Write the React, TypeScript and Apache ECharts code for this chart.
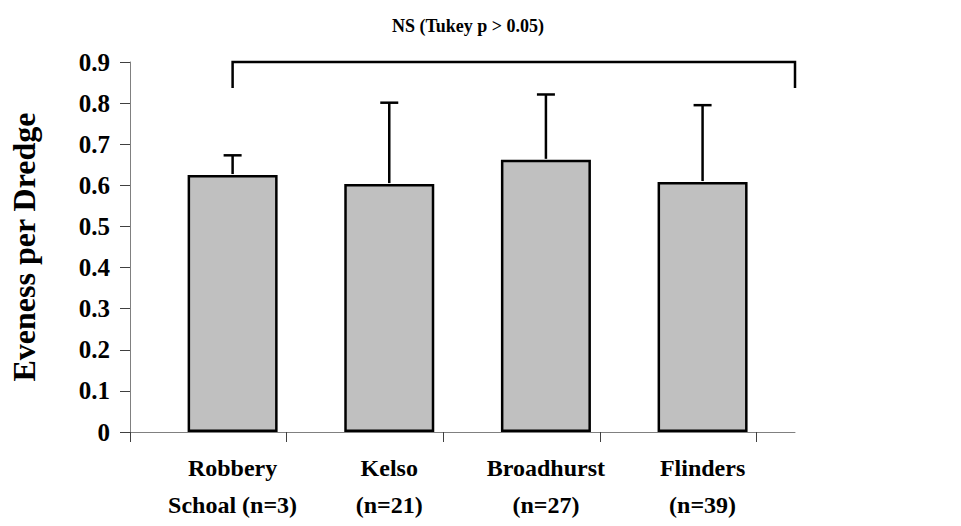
import React, { useEffect, useRef } from "react";
import * as echarts from "echarts";

// Sites along the horizontal axis, placed at x = 0, 1, 2, 3
const sites = ["Robbery\nSchoal (n=3)", "Kelso\n(n=21)", "Broadhurst\n(n=27)", "Flinders\n(n=39)"];
const sitePositions = [0, 1, 2, 3];
const evenness = [0.625, 0.603, 0.662, 0.608];
const upperError = [0.673, 0.801, 0.821, 0.795];

// Axis extents and tick positions
const xExtent = { min: -0.655, max: 3.59 };
const xTickValues = [-0.655, 0.345, 1.345, 2.345, 3.345];
const yTicks = { min: 0, max: 0.9, interval: 0.1 };

// Significance bracket spanning the sites
const bracketFrom = 0;
const bracketTo = 3.59;
const bracketLevel = 0.9;
const bracketFoot = 0.837;
const bracketText = "NS (Tukey p > 0.05)";

const FONT = "'Liberation Serif', 'Times New Roman', serif";

export default function App() {
  const ref = useRef<HTMLDivElement>(null);

  useEffect(() => {
    document.body.style.margin = "0";
    if (!ref.current) return;
    const chart = echarts.init(ref.current, null, { renderer: "svg" });

    const barData = sitePositions.map((x, i) => [x, evenness[i]]);
    const errData = sitePositions.map((x, i) => [x, evenness[i], upperError[i]]);

    chart.setOption({
      animation: false,
      backgroundColor: "#ffffff",
      title: {
        text: bracketText,
        left: 463,
        top: 12,
        textAlign: "center",
        textStyle: { fontFamily: FONT, fontWeight: "bold", fontSize: 18, color: "#000" },
      },
      grid: { left: 121, right: 166, top: 62, bottom: 94, containLabel: false },
      xAxis: {
        type: "value",
        min: xExtent.min,
        max: xExtent.max,
        splitLine: { show: false },
        axisLine: { show: true, onZero: false, lineStyle: { color: "#808080", width: 1 } },
        axisTick: {
          show: true,
          customValues: xTickValues,
          length: 10,
          lineStyle: { color: "#404040" },
        },
        axisLabel: {
          customValues: sitePositions,
          formatter: (v: number) => sites[Math.round(v)] ?? "",
          margin: 17,
          fontFamily: FONT,
          fontWeight: "bold",
          fontSize: 24,
          lineHeight: 37,
          color: "#000",
          align: "center",
        },
      },
      yAxis: {
        type: "value",
        min: yTicks.min,
        max: yTicks.max,
        interval: yTicks.interval,
        name: "Eveness per Dredge",
        nameLocation: "middle",
        nameGap: 90,
        nameRotate: 90,
        nameTextStyle: { fontFamily: FONT, fontWeight: "bold", fontSize: 32, color: "#000" },
        axisLine: { show: true, onZero: false, lineStyle: { color: "#808080", width: 1 } },
        axisTick: { show: true, length: 10, lineStyle: { color: "#404040" } },
        splitLine: { show: false },
        axisLabel: {
          margin: 20,
          fontFamily: FONT,
          fontWeight: "bold",
          fontSize: 25,
          color: "#000",
          formatter: (v: number) => (v === 0 ? "0" : v.toFixed(1)),
        },
      },
      series: [
        {
          type: "bar",
          data: barData,
          barWidth: 90,
          itemStyle: { color: "#c0c0c0", borderColor: "#000", borderWidth: 2.5 },
          z: 2,
        },
        {
          type: "custom",
          data: errData,
          z: 3,
          renderItem: (params: any, api: any) => {
            const x = api.value(0);
            const base = api.coord([x, api.value(1)]);
            const top = api.coord([x, api.value(2)]);
            const half = 9;
            return {
              type: "group",
              children: [
                {
                  type: "line",
                  shape: { x1: base[0], y1: base[1] - 1, x2: top[0], y2: top[1] },
                  style: { stroke: "#000", lineWidth: 2.5 },
                },
                {
                  type: "line",
                  shape: { x1: top[0] - half, y1: top[1], x2: top[0] + half, y2: top[1] },
                  style: { stroke: "#000", lineWidth: 2.5 },
                },
              ],
            };
          },
        },
        {
          type: "custom",
          data: [[bracketFrom, bracketTo, bracketLevel, bracketFoot]],
          z: 3,
          clip: false,
          renderItem: (params: any, api: any) => {
            const l = api.coord([api.value(0), api.value(2)]);
            const r = api.coord([api.value(1), api.value(2)]);
            const lf = api.coord([api.value(0), api.value(3)]);
            const rf = api.coord([api.value(1), api.value(3)]);
            return {
              type: "polyline",
              shape: { points: [[lf[0], lf[1]], [l[0], l[1]], [r[0], r[1]], [rf[0], rf[1]]] },
              style: { stroke: "#000", lineWidth: 2.5, fill: "none" },
            };
          },
        },
      ],
    });

    return () => chart.dispose();
  }, []);

  return <div ref={ref} style={{ width: 961, height: 526 }} />;
}
